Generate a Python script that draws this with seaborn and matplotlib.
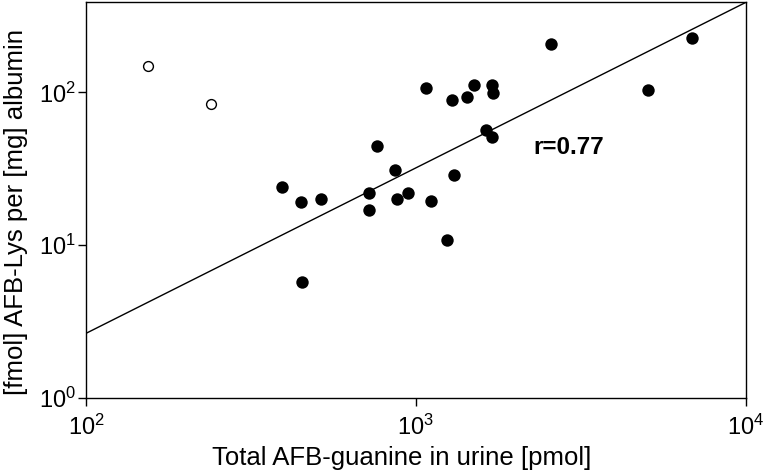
import matplotlib
matplotlib.use("Agg")
import matplotlib.pyplot as plt
import seaborn as sns
import pandas as pd
import numpy as np

# Datos (escala log-log)
guanina_llena = [393, 449, 451, 517, 721, 721, 764, 867, 877, 946, 1074, 1114,
                 1242, 1291, 1309, 1429, 1506, 1633, 1701, 1702, 1714, 2570, 5047, 6855]
lys_llena = [24.0, 19.3, 5.7, 19.9, 21.8, 16.9, 44.4, 31.1, 20.0, 21.9, 107, 19.4,
             10.8, 89.6, 28.7, 93.1, 111, 56.5, 51.1, 112, 99.5, 207, 103, 226]
guanina_vacia = [154, 239]
lys_vacia = [149, 84.4]

# Recta de regresión en log-log: log10(y) = a + b*log10(x)
ajuste_a = -1.742
ajuste_b = 1.0825
texto_r = "r=0.77"

sns.set_theme(style="ticks")
plt.rcParams['font.family'] = ['Liberation Sans', 'DejaVu Sans']
plt.rcParams['mathtext.fontset'] = 'custom'
plt.rcParams['mathtext.rm'] = 'Liberation Sans'
plt.rcParams['text.color'] = 'black'
plt.rcParams['axes.labelcolor'] = 'black'

df_llena = pd.DataFrame({'x': guanina_llena, 'y': lys_llena})
df_vacia = pd.DataFrame({'x': guanina_vacia, 'y': lys_vacia})

fig = plt.figure(figsize=(7.64, 4.73), dpi=100)
ax = fig.add_axes([0.1126, 0.1586, 0.8634, 0.8372])

xs = np.logspace(2, 4, 50)
df_ajuste = pd.DataFrame({'x': xs, 'y': 10 ** (ajuste_a + ajuste_b * np.log10(xs))})
sns.lineplot(data=df_ajuste, x='x', y='y', ax=ax, color='black', linewidth=1.0)

sns.scatterplot(data=df_llena, x='x', y='y', ax=ax, color='black', s=80,
                edgecolor='black', linewidth=0, zorder=3)
sns.scatterplot(data=df_vacia, x='x', y='y', ax=ax, facecolor='white', s=50,
                edgecolor='black', linewidth=1.0, zorder=3)

ax.set_xscale('log')
ax.set_yscale('log')
ax.set_xlim(100, 10000)
ax.set_ylim(1, 390)
ax.minorticks_off()
ax.set_xticks([1e2, 1e3, 1e4])
ax.set_yticks([1e0, 1e1, 1e2])

for s in ax.spines.values():
    s.set_linewidth(1.0)
    s.set_color('black')
ax.tick_params(direction='out', length=6, width=1.0, labelsize=17, colors='black')
ax.tick_params(axis='x', pad=6)
ax.tick_params(axis='y', pad=1)

ax.set_xlabel('Total AFB-guanine in urine [pmol]', fontsize=18.5)
ax.set_ylabel('[fmol] AFB-Lys per [mg] albumin', fontsize=18.5)
ax.xaxis.set_label_coords(0.479, -0.122)
ax.yaxis.set_label_coords(-0.088, 0.47)

ax.text(2270, 43.7, texto_r, fontsize=17.5, fontweight='bold', va='center', ha='left')

fig.savefig('out.png', dpi=100)
plt.close(fig)
